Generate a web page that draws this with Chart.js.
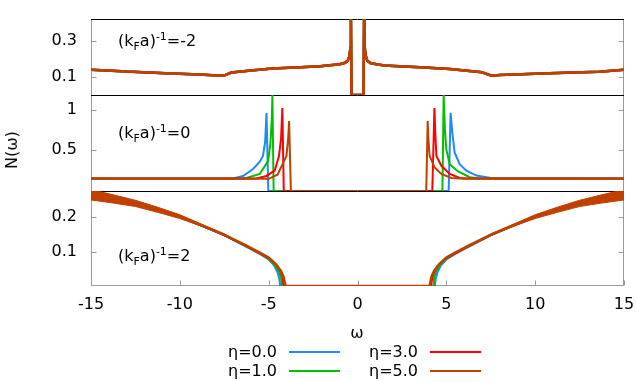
<!DOCTYPE html>
<html>
<head>
<meta charset="utf-8">
<script src="https://cdn.jsdelivr.net/npm/chart.js@4.4.1/dist/chart.umd.min.js"></script>
<style>
  body { margin: 0; background: #fff; }
  #wrap { position: relative; width: 636px; height: 382px; font-family: 'DejaVu Sans', sans-serif; font-size: 16px; color: #000; }
  #wrap canvas { position: absolute; left: 0; top: 0; }
  .lbl { position: absolute; white-space: nowrap; line-height: 16px; }
  .lbl sub, .lbl sup { font-size: 11px; line-height: 0; }
  .leg { position: absolute; white-space: nowrap; line-height: 16px; text-align: right; width: 80px; }
  .trait { position: absolute; height: 2px; width: 51px; }
</style>
</head>
<body>
<div id="wrap">
  <canvas id="dosChart" width="636" height="382"></canvas>
  <div class="lbl" style="left:118px; top:33px;">(k<sub>F</sub>a)<sup>-1</sup>=-2</div>
  <div class="lbl" style="left:118px; top:125px;">(k<sub>F</sub>a)<sup>-1</sup>=0</div>
  <div class="lbl" style="left:118px; top:248px;">(k<sub>F</sub>a)<sup>-1</sup>=2</div>
  <div class="lbl" style="left:12px; top:150px; transform: translate(-50%, -50%) rotate(-90deg);">N(ω)</div>
  <div class="lbl" style="left:357px; top:333px; transform: translate(-50%, -50%);">ω</div>
  <div id="legende"></div>
</div>
<script>
'use strict';
// --- panneau du haut : (kFa)^-1 = -2 (les 4 courbes se superposent)
const omegaTop = [-15, -12.7, -10.8, -8.9, -7.9, -7.55, -7.1, -6.0, -4.8, -3.2, -2.1, -1.0, -0.7, -0.55, -0.45, -0.4, -0.37, -0.34,
  0.34, 0.37, 0.4, 0.45, 0.55, 0.75, 1.5, 3.5, 5.2, 7.0, 7.55, 8.0, 10.8, 13.6, 15];
const dosTop = [0.139, 0.129, 0.120, 0.113, 0.108, 0.106, 0.124, 0.135, 0.147, 0.153, 0.159, 0.170, 0.178, 0.19, 0.215, 0.26, 0.42, 0,
  0, 0.42, 0.27, 0.22, 0.19, 0.175, 0.163, 0.153, 0.144, 0.126, 0.107, 0.110, 0.120, 0.129, 0.139];

// --- panneau du milieu : (kFa)^-1 = 0
const omegaMid0 = [-15, -7.0, -6.44, -5.88, -5.5, -5.32, -5.2, -5.12, -5.02, 5.13, 5.24, 5.34, 5.47, 5.75, 6.13, 6.69, 7.5, 15];
const dosMid0 = [0.155, 0.155, 0.185, 0.27, 0.36, 0.43, 0.6, 0.96, 0, 0, 0.96, 0.71, 0.47, 0.33, 0.25, 0.19, 0.16, 0.155];
const omegaMid1 = [-15, -6.5, -6.25, -5.5, -5.03, -4.9, -4.82, -4.79, -4.72, 4.78, 4.85, 4.92, 5.0, 5.19, 5.66, 6.31, 6.9, 15];
const dosMid1 = [0.155, 0.155, 0.16, 0.21, 0.37, 0.59, 0.9, 1.18, 0, 0, 1.18, 0.75, 0.51, 0.33, 0.24, 0.17, 0.155, 0.155];
const omegaMid3 = [-15, -5.7, -5.13, -4.66, -4.42, -4.3, -4.23, -4.15, 4.21, 4.33, 4.38, 4.44, 4.72, 5.19, 5.75, 6.2, 15];
const dosMid3 = [0.155, 0.155, 0.185, 0.25, 0.43, 0.65, 1.02, 0, 0, 1.02, 0.7, 0.43, 0.31, 0.21, 0.16, 0.155, 0.155];
const omegaMid5 = [-15, -5.0, -4.5, -4.0, -3.9, -3.85, -3.75, 3.87, 3.95, 4.0, 4.06, 4.34, 4.72, 5.28, 6.0, 15];
const dosMid5 = [0.15, 0.15, 0.2, 0.43, 0.65, 0.86, 0, 0, 0.86, 0.6, 0.43, 0.29, 0.21, 0.16, 0.15, 0.15];

// --- panneau du bas : (kFa)^-1 = 2
const omegaBot0 = [-15, -13.75, -12.5, -11.25, -10, -8.75, -7.5, -6.25, -5.5, -5, -4.7, -4.5, -4.4, -4.35,
  4.35, 4.4, 4.5, 4.7, 5, 5.5, 6.25, 7.5, 8.75, 10, 11.25, 12.5, 13.75, 15];
const dosBot0 = [0.266, 0.254, 0.241, 0.222, 0.201, 0.175, 0.147, 0.114, 0.093, 0.077, 0.06, 0.04, 0.02, 0,
  0, 0.02, 0.04, 0.06, 0.077, 0.093, 0.114, 0.147, 0.175, 0.201, 0.222, 0.241, 0.254, 0.266];
const omegaBot1 = [-15, -12.5, -10, -7.5, -6.25, -5.5, -5, -4.6, -4.4, -4.3, -4.25, 4.25, 4.3, 4.4, 4.6, 5, 5.5, 6.25, 7.5, 10, 12.5, 15];
const dosBot1 = [0.266, 0.241, 0.201, 0.148, 0.115, 0.094, 0.079, 0.058, 0.04, 0.02, 0, 0, 0.02, 0.04, 0.058, 0.079, 0.094, 0.115, 0.148, 0.201, 0.241, 0.266];
const omegaBot3 = [-15, -12.5, -10, -7.5, -6.25, -5.5, -5, -4.5, -4.3, -4.2, -4.15, 4.15, 4.2, 4.3, 4.5, 5, 5.5, 6.25, 7.5, 10, 12.5, 15];
const dosBot3 = [0.266, 0.241, 0.202, 0.148, 0.116, 0.095, 0.081, 0.058, 0.04, 0.022, 0, 0, 0.022, 0.04, 0.058, 0.081, 0.095, 0.116, 0.148, 0.202, 0.241, 0.266];
const omegaBot5 = [-15, -13.75, -12.5, -11.25, -10, -8.75, -7.5, -6.25, -5.5, -5, -4.6, -4.3, -4.15, -4.05,
  4.06, 4.15, 4.3, 4.6, 5, 5.5, 6.25, 7.5, 8.75, 10, 11.25, 12.5, 13.75, 15];
const dosBot5 = [0.266, 0.254, 0.241, 0.222, 0.202, 0.176, 0.149, 0.117, 0.097, 0.083, 0.064, 0.043, 0.025, 0,
  0, 0.025, 0.043, 0.064, 0.083, 0.097, 0.117, 0.149, 0.176, 0.202, 0.222, 0.241, 0.254, 0.266];
// bande bruitée de la courbe eta=5 aux grandes |omega|
const bandW = [7.5, 8.75, 10, 11.25, 12.5, 13.75, 15];
const bandHi = [0.151, 0.179, 0.207, 0.229, 0.249, 0.265, 0.28];
const bandLo = [0.147, 0.173, 0.196, 0.214, 0.231, 0.241, 0.25];

// ticks et legende
const ticksX = [-15, -10, -5, 0, 5, 10, 15];
const ticksTop = [0.1, 0.3];
const ticksMid = [0.5, 1];
const ticksBot = [0.1, 0.2];
const etaLabels = ['η=0.0', 'η=1.0', 'η=3.0', 'η=5.0'];
const couleurs = ['#1e88ff', '#00c000', '#ff0000', '#c04000'];

const pts = (xs, ys) => xs.map((x, i) => ({ x: x, y: ys[i] }));
const neg = xs => xs.map(x => -x);

function serie(xs, ys, k, axe, largeur) {
  return {
    data: pts(xs, ys),
    yAxisID: axe,
    showLine: true,
    pointRadius: 0,
    borderColor: couleurs[k],
    borderWidth: largeur || 2,
    fill: false,
    order: 4 - k
  };
}

function bande(xs, ys, remplir) {
  return {
    data: pts(xs, ys),
    yAxisID: 'yBot',
    showLine: true,
    pointRadius: 0,
    borderColor: couleurs[3],
    borderWidth: 1,
    backgroundColor: couleurs[3],
    fill: remplir ? '-1' : false,
    order: 0
  };
}

const datasets = [
  serie(omegaTop, dosTop, 0, 'yTop', 2.5),
  serie(omegaTop, dosTop, 1, 'yTop', 2.5),
  serie(omegaTop, dosTop, 2, 'yTop', 2.5),
  serie(omegaTop, dosTop, 3, 'yTop', 2.5),
  serie(omegaMid0, dosMid0, 0, 'yMid'),
  serie(omegaMid1, dosMid1, 1, 'yMid'),
  serie(omegaMid3, dosMid3, 2, 'yMid'),
  serie(omegaMid5, dosMid5, 3, 'yMid'),
  serie(omegaBot0, dosBot0, 0, 'yBot'),
  serie(omegaBot1, dosBot1, 1, 'yBot'),
  serie(omegaBot3, dosBot3, 2, 'yBot'),
  serie(omegaBot5, dosBot5, 3, 'yBot', 2.5),
  bande(bandW, bandHi, false),
  bande(bandW, bandLo, true),
  bande(neg(bandW), bandHi, false),
  bande(neg(bandW), bandLo, true)
];

const police = { family: 'DejaVu Sans', size: 16 };

function axeY(valeurs, max, poids, hauteur) {
  return {
    type: 'linear',
    position: 'left',
    stack: 'panneaux',
    stackWeight: hauteur,
    weight: poids,
    min: 0,
    max: max,
    border: { display: false },
    grid: { display: false, drawTicks: false },
    ticks: { padding: 14, font: police, color: '#000', callback: v => String(v) },
    afterBuildTicks: s => { s.ticks = valeurs.map(v => ({ value: v })); },
    afterFit: s => { s.width = 91; s.paddingTop = 0; s.paddingBottom = 0; }
  };
}

// cadre facon gnuplot : bords, separations et petits ticks vers l'interieur
const cadre = {
  id: 'cadre',
  beforeDatasetsDraw(chart) {
    const { ctx, chartArea: a, scales } = chart;
    const L = a.left + 0.5, R = a.right - 0.5, B = Math.round(a.bottom) - 0.5;
    ctx.save();
    ctx.lineWidth = 1;
    ctx.strokeStyle = '#9a9a9a';
    ctx.beginPath();
    ctx.moveTo(L, a.top); ctx.lineTo(L, B); ctx.lineTo(R, B); ctx.lineTo(R, a.top);
    ['yTop', 'yMid', 'yBot'].forEach(id => {
      const s = scales[id];
      s.ticks.forEach(t => {
        const y = Math.round(s.getPixelForValue(t.value)) + 0.5;
        ctx.moveTo(L, y); ctx.lineTo(L + 5, y);
        ctx.moveTo(R, y); ctx.lineTo(R - 5, y);
      });
    });
    scales.x.ticks.forEach(t => {
      const x = Math.round(scales.x.getPixelForValue(t.value)) + 0.5;
      ctx.moveTo(x, B); ctx.lineTo(x, B - 5);
    });
    ctx.stroke();
    ctx.strokeStyle = '#000';
    ctx.beginPath();
    ['yTop', 'yMid', 'yBot'].forEach(id => {
      const y = Math.round(scales[id].top) + 0.5;
      ctx.moveTo(a.left, y); ctx.lineTo(a.right, y);
    });
    ctx.stroke();
    ctx.restore();
  }
};

new Chart(document.getElementById('dosChart'), {
  type: 'scatter',
  data: { datasets: datasets },
  options: {
    responsive: false,
    animation: false,
    layout: { padding: { top: 19, right: 12, left: 0, bottom: 0 } },
    plugins: { legend: { display: false }, tooltip: { enabled: false } },
    scales: {
      x: {
        type: 'linear',
        min: -15,
        max: 15,
        border: { display: false },
        grid: { display: false, drawTicks: false },
        ticks: { padding: 9, font: police, color: '#000', callback: v => String(v) },
        afterBuildTicks: s => { s.ticks = ticksX.map(v => ({ value: v })); },
        afterFit: s => { s.height = 96; s.paddingLeft = 0; s.paddingRight = 0; }
      },
      yTop: axeY(ticksTop, 0.42, 3, 76),
      yMid: axeY(ticksMid, 1.18, 2, 96),
      yBot: axeY(ticksBot, 0.276, 1, 95)
    }
  },
  plugins: [cadre]
});

// legende en html, 2 colonnes
const legende = document.getElementById('legende');
const posLeg = [[277, 352], [277, 371], [418, 352], [418, 371]];
etaLabels.forEach((txt, k) => {
  const [xFin, yMil] = posLeg[k];
  const t = document.createElement('div');
  t.className = 'leg';
  t.textContent = txt;
  t.style.left = (xFin - 80) + 'px';
  t.style.top = (yMil - 8) + 'px';
  legende.appendChild(t);
  const l = document.createElement('div');
  l.className = 'trait';
  l.style.left = (xFin + 12) + 'px';
  l.style.top = (yMil - 1) + 'px';
  l.style.background = couleurs[k];
  legende.appendChild(l);
});
</script>
</body>
</html>
